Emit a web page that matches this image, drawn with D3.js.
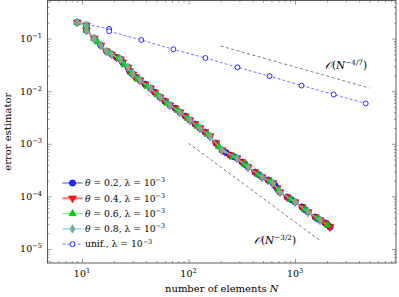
<!DOCTYPE html>
<html>
<head>
<meta charset="utf-8">
<script src="https://cdn.jsdelivr.net/npm/d3@7"></script>
<style>
  body { margin: 0; background: #fff; }
  svg { display: block; font-family: 'DejaVu Serif', 'Liberation Serif', serif; }
</style>
</head>
<body>
<svg id="chart" width="399" height="297"></svg>
<script>
// uniform refinement
const unifN = [9, 18, 18, 36, 72, 144, 288, 576, 1152, 2304, 4608]
const unifErr = [0.204, 0.153, 0.138, 0.094, 0.0626, 0.0428, 0.0285, 0.0193, 0.0128, 0.00865, 0.00585]

// adaptive, theta = 0.2
const t02N = [9, 11, 11, 13, 15, 17, 19, 21, 23, 24, 27, 28, 30, 32, 35, 39, 44, 48, 54, 60,
  67, 75, 83, 93, 103, 115, 128, 143, 159, 181, 206, 225, 245, 265, 285, 318, 340, 362, 421, 455,
  490, 557, 621, 650, 677, 722, 841, 920, 1000, 1164, 1240, 1325, 1542, 1630, 1718, 1914, 2020, 2133]
const t02Err = [0.204, 0.179, 0.144, 0.101, 0.0746, 0.0574, 0.0503, 0.0442, 0.0405, 0.0355,
  0.0285, 0.0240, 0.0210, 0.0185, 0.0162, 0.0136, 0.0114, 0.00957, 0.00769, 0.00646,
  0.00542, 0.00475, 0.00400, 0.00336, 0.00282, 0.00237, 0.00199, 0.00167, 0.00140, 0.00103,
  0.000759, 0.000680, 0.000610, 0.000570, 0.000535, 0.000450, 0.000405, 0.000361, 0.000290, 0.000260,
  0.000233, 0.000205, 0.000179, 0.000160, 0.000144, 0.000121, 0.0000975, 0.0000870, 0.0000783, 0.0000630,
  0.0000560, 0.0000506, 0.0000406, 0.0000380, 0.0000356, 0.0000313, 0.0000288, 0.0000262]

// adaptive, theta = 0.4
const t04N = [9, 11, 11, 13, 15, 17, 19, 21, 23, 24, 27, 28, 30, 32, 35, 39, 44, 48, 54, 60,
  67, 75, 83, 93, 103, 115, 128, 143, 159, 181, 206, 245, 285, 318, 362, 421, 490, 557, 621, 677,
  722, 841, 1000, 1164, 1325, 1542, 1718, 1914, 2133]
const t04Err = [0.204, 0.179, 0.144, 0.101, 0.0746, 0.0574, 0.0503, 0.0442, 0.0405, 0.0355,
  0.0285, 0.0240, 0.0210, 0.0185, 0.0162, 0.0136, 0.0114, 0.00957, 0.00769, 0.00646,
  0.00542, 0.00475, 0.00400, 0.00336, 0.00282, 0.00237, 0.00199, 0.00167, 0.00140, 0.00103,
  0.000759, 0.000610, 0.000535, 0.000450, 0.000361, 0.000290, 0.000233, 0.000205, 0.000179, 0.000144,
  0.000121, 0.0000975, 0.0000783, 0.0000630, 0.0000506, 0.0000406, 0.0000356, 0.0000313, 0.0000262]

// adaptive, theta = 0.6
const t06N = [9, 11, 11, 13, 14, 18, 22, 25, 29, 33, 41, 51, 63, 79, 98, 121, 151, 193,
  264, 339, 454, 588, 699, 917, 1242, 1628, 2021]
const t06Err = [0.204, 0.179, 0.144, 0.101, 0.0868, 0.0537, 0.0423, 0.0318, 0.02245, 0.01731,
  0.01245, 0.00858, 0.00592, 0.00436, 0.00308, 0.00217, 0.00153, 0.000884,
  0.000571, 0.000403, 0.000260, 0.000192, 0.000132, 0.0000874, 0.0000565, 0.0000380, 0.0000286]

// adaptive, theta = 0.8
const t08N = [9, 11, 11, 13, 15, 17, 19, 23, 27, 30, 35, 44, 54, 67, 83, 103, 128, 159, 206,
  285, 362, 490, 621, 722, 1000, 1325, 1718]
const t08Err = [0.204, 0.179, 0.144, 0.101, 0.0746, 0.0574, 0.0503, 0.0405, 0.0285, 0.0210,
  0.0162, 0.0114, 0.00769, 0.00542, 0.00400, 0.00282, 0.00199, 0.00140, 0.000759,
  0.000535, 0.000361, 0.000233, 0.000179, 0.000121, 0.0000783, 0.0000506, 0.0000356]

// reference slopes
const rate47N = [200, 5000]
const rate47Err = [0.0724, 0.01151]
const rate32N = [100, 1700]
const rate32Err = [0.00103, 0.0000147]

const xMajor = [10, 100, 1000]
const yMajor = [1e-1, 1e-2, 1e-3, 1e-4, 1e-5]
const xExp = ['1', '2', '3']
const yExp = ['\u22121', '\u22122', '\u22123', '\u22124', '\u22125']

const svg = d3.select('#chart')
const pLeft = 47.5, pRight = 396, pTop = 0.5, pBottom = 263

const x = d3.scaleLog().domain([4.74, 8870]).range([pLeft, pRight])
const y = d3.scaleLog().domain([5.42e-6, 0.53]).range([pBottom, pTop])

const isMajor = (v) => Math.abs(Math.log10(v) - Math.round(Math.log10(v))) < 1e-6
const xMinor = x.ticks().filter((v) => !isMajor(v))
const yMinor = y.ticks().filter((v) => !isMajor(v))

// ticks, all pointing inwards
const tickAxis = (axis, vals, size, tx, ty) => {
  const g = svg.append('g')
    .attr('transform', `translate(${tx},${ty})`)
    .call(axis.tickValues(vals).tickSize(-size).tickFormat(''))
  g.select('.domain').remove()
  g.selectAll('line').attr('stroke', '#555').attr('stroke-width', 0.6)
}
tickAxis(d3.axisBottom(x), xMinor, 2, 0, pBottom)
tickAxis(d3.axisBottom(x), xMajor, 4, 0, pBottom)
tickAxis(d3.axisTop(x), xMinor, 2, 0, pTop)
tickAxis(d3.axisTop(x), xMajor, 4, 0, pTop)
tickAxis(d3.axisLeft(y), yMinor, 2, pLeft, 0)
tickAxis(d3.axisLeft(y), yMajor, 4, pLeft, 0)
tickAxis(d3.axisRight(y), yMinor, 2, pRight, 0)
tickAxis(d3.axisRight(y), yMajor, 4, pRight, 0)

svg.append('defs').append('clipPath').attr('id', 'clip')
  .append('rect').attr('x', pLeft).attr('y', pTop)
  .attr('width', pRight - pLeft).attr('height', pBottom - pTop)

const plot = svg.append('g').attr('clip-path', 'url(#clip)')

const line = d3.line().x((d) => x(d[0])).y((d) => y(d[1]))
const zip = (a, b) => a.map((v, i) => [v, b[i]])

// reference lines
;[[rate47N, rate47Err], [rate32N, rate32Err]].forEach(([n, e]) => {
  plot.append('path')
    .attr('d', line(zip(n, e)))
    .attr('fill', 'none')
    .attr('stroke', '#222')
    .attr('stroke-width', 0.6)
    .attr('stroke-dasharray', '3,2.5')
})

const series = [
  { n: unifN, e: unifErr, stroke: '#3a3aff', width: 0.7, dash: '3,2', sym: d3.symbolCircle, size: 19, fill: '#fff', mstroke: '#1010ff', rot: 0, msw: 0.9 },
  { n: t02N, e: t02Err, stroke: '#1a1aff', width: 0.8, dash: null, sym: d3.symbolCircle, size: 30, fill: '#2a2aff', mstroke: '#0000dd', rot: 0, msw: 0.7 },
  { n: t04N, e: t04Err, stroke: '#ff8080', width: 2.2, dash: null, sym: d3.symbolTriangle, size: 27, fill: '#ff1a1a', mstroke: '#ee0000', rot: 180, msw: 0.6 },
  { n: t06N, e: t06Err, stroke: '#55ee55', width: 0.9, dash: null, sym: d3.symbolTriangle, size: 22, fill: '#00cc00', mstroke: '#00bb00', rot: 0, msw: 0.6 },
  { n: t08N, e: t08Err, stroke: '#55c8f0', width: 1, dash: null, sym: d3.symbolDiamond, size: 21, fill: '#a8a050', mstroke: '#33c0ee', rot: 0, msw: 0.8 },
]

series.forEach((s) => {
  const pts = zip(s.n, s.e)
  plot.append('path')
    .attr('d', line(pts))
    .attr('fill', 'none')
    .attr('stroke', s.stroke)
    .attr('stroke-width', s.width)
    .attr('stroke-dasharray', s.dash)
  plot.selectAll(null)
    .data(pts)
    .join('path')
    .attr('d', d3.symbol().type(s.sym).size(s.size))
    .attr('transform', (d) => `translate(${x(d[0])},${y(d[1])}) rotate(${s.rot})`)
    .attr('fill', s.fill)
    .attr('stroke', s.mstroke)
    .attr('stroke-width', s.msw)
})

// frame
svg.append('rect')
  .attr('x', pLeft).attr('y', pTop)
  .attr('width', pRight - pLeft).attr('height', pBottom - pTop)
  .attr('fill', 'none').attr('stroke', '#333').attr('stroke-width', 0.8)

const pow10 = (t, exp, fs) => {
  t.append('tspan').text('10')
  t.append('tspan').attr('dy', -fs * 0.42).attr('font-size', fs * 0.7).text(exp)
}

xMajor.forEach((v, i) => {
  const t = svg.append('text')
    .attr('x', x(v)).attr('y', 277)
    .attr('text-anchor', 'middle')
    .attr('font-size', 9.5)
  pow10(t, xExp[i], 9.5)
})
yMajor.forEach((v, i) => {
  const t = svg.append('text')
    .attr('x', 42).attr('y', y(v) + 3.4)
    .attr('text-anchor', 'end')
    .attr('font-size', 9.5)
  pow10(t, yExp[i], 9.5)
})

// axis labels
const xl = svg.append('text')
  .attr('x', (pLeft + pRight) / 2).attr('y', 292)
  .attr('text-anchor', 'middle').attr('font-size', 10)
xl.append('tspan').text('number of elements ')
xl.append('tspan').attr('font-style', 'italic').text('N')

svg.append('text')
  .attr('transform', `translate(11,${(pTop + pBottom) / 2}) rotate(-90)`)
  .attr('text-anchor', 'middle').attr('font-size', 10)
  .text('error estimator')

// rate labels
const rateLabel = (lx, ly, exp) => {
  const t = svg.append('text').attr('x', lx).attr('y', ly).attr('font-size', 10.5)
  t.append('tspan').attr('font-style', 'italic').text('\u{1D4AA}')
  t.append('tspan').text('(')
  t.append('tspan').attr('font-style', 'italic').text('N')
  t.append('tspan').attr('dy', -4.5).attr('font-size', 7.2).text(exp)
  t.append('tspan').attr('dy', 4.5).text(')')
}
rateLabel(325, 69, '\u22124/7')
rateLabel(254, 244, '\u22123/2')

// legend
const legendTheta = ['0.2', '0.4', '0.6', '0.8']
const legendRows = [1, 2, 3, 4, 0]
legendRows.forEach((si, i) => {
  const s = series[si]
  const ry = 183 + i * 15.3
  svg.append('line')
    .attr('x1', 62.5).attr('x2', 82.5).attr('y1', ry).attr('y2', ry)
    .attr('stroke', s.stroke).attr('stroke-width', s.width)
    .attr('stroke-dasharray', s.dash)
  svg.append('path')
    .attr('d', d3.symbol().type(s.sym).size(s.size)())
    .attr('transform', `translate(72.5,${ry}) rotate(${s.rot})`)
    .attr('fill', s.fill).attr('stroke', s.mstroke).attr('stroke-width', s.msw)
  const t = svg.append('text').attr('x', 85).attr('y', ry + 3.2).attr('font-size', 9.2)
  if (si === 0) {
    t.append('tspan').text('unif., \u03bb = ')
  } else {
    t.append('tspan').attr('font-style', 'italic').text('\u03b8')
    t.append('tspan').text(` = ${legendTheta[si - 1]}, \u03bb = `)
  }
  t.append('tspan').text('10')
  t.append('tspan').attr('dy', -3.9).attr('font-size', 6.5).text('\u22123')
})
</script>
</body>
</html>
